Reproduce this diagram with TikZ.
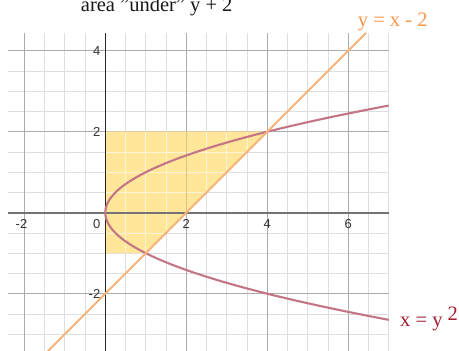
\documentclass[tikz,border=0pt]{standalone}
\usepackage{fontspec}
\setmainfont{Liberation Serif}
\newfontfamily\labfont{Liberation Sans}
\definecolor{fillyellow}{HTML}{FFE699}
\definecolor{lineorange}{HTML}{F7B27A}
\definecolor{textorange}{HTML}{F7974A}
\definecolor{parabred}{HTML}{C47585}
\definecolor{textred}{HTML}{A02030}
\begin{document}
\begin{tikzpicture}[x=1pt,y=-1pt,
  minorgrid/.style={draw=black!13, line width=0.8pt},
  majorgrid/.style={draw=black!33, line width=0.8pt},
  minorfill/.style={draw=white!60!fillyellow, line width=0.8pt},
  majorfill/.style={draw=black!15!fillyellow, line width=0.8pt},
  xaxisline/.style={draw=black!55, line width=1.6pt},
  yaxisline/.style={draw=black!85, line width=1pt},
  ticklab/.style={font=\labfont\fontsize{13}{13}\selectfont, text=black!80, inner sep=0pt},
  curvelabel/.style={font=\fontsize{20.5}{20.5}\selectfont, inner sep=0pt}]
\useasboundingbox (0,0) rectangle (459,351);
\node[curvelabel, anchor=base west, text=black!90] (title) at (80.7,11.5) {area "under" y + 2};
\node[curvelabel, anchor=base west, text=textorange] (linelab) at (357.7,26) {y = x - 2};
\node[curvelabel, anchor=base west, text=textred] (parablab) at (400,326.7) {x = y \raisebox{6.5pt}{2}};
\begin{scope}[shift={(105.3,212.7)}, x=40.5pt, y=40.5pt]
  \begin{scope}
    \clip (-2.4,-3.5) rectangle (7.0,4.44);
    \draw[minorgrid, step=0.5] (-2.4,-3.5) grid (7,4.44);
    \draw[majorgrid, step=2] (-2.4,-3.5) grid (7,4.44);
    \fill[fillyellow] (0,-1) -- (1,-1) -- (4,2) -- (0,2) -- cycle;
    \begin{scope}
      \clip (0,-1) -- (1,-1) -- (4,2) -- (0,2) -- cycle;
      \draw[minorfill, step=0.5] (-2.4,-3.5) grid (7,4.44);
      \draw[majorfill, step=2] (-2.4,-3.5) grid (7,4.44);
    \end{scope}
    \draw[xaxisline] (-2.4,0) -- (7,0);
    \draw[yaxisline] (0,-3.5) -- (0,4.44);
    \draw[parabred, line width=2.1pt] plot[domain=-2.646:2.646, samples=120, smooth] ({\x*\x},\x);
    \draw[lineorange, line width=2.1pt] (-1.5,-3.5) -- (6.44,4.44);
  \end{scope}
  \node[ticklab, anchor=east] (ylab4) at (-0.12,4) {4};
  \node[ticklab, anchor=east] (ylab2) at (-0.12,2) {2};
  \node[ticklab, anchor=east] (ylabm2) at (-0.12,-2) {-2};
  \node[ticklab, anchor=north east] (lab0) at (-0.12,-0.17) {0};
  \node[ticklab, anchor=north] (xlabm2) at (-2.07,-0.17) {-2};
  \node[ticklab, anchor=north] (xlab2) at (2,-0.17) {2};
  \node[ticklab, anchor=north] (xlab4) at (4,-0.17) {4};
  \node[ticklab, anchor=north] (xlab6) at (6,-0.17) {6};
\end{scope}
\end{tikzpicture}
\end{document}
